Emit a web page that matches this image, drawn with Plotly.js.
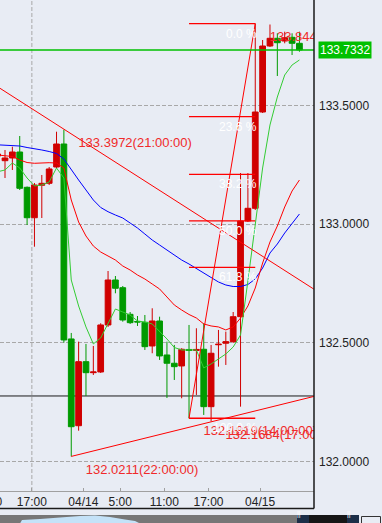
<!DOCTYPE html>
<html><head><meta charset="utf-8">
<script src="https://cdn.plot.ly/plotly-3.0.1.min.js"></script>
<style>html,body{margin:0;padding:0;background:#e8ecf4;overflow:hidden}#chart{width:382px;height:523px}</style>
</head><body><div id="chart"></div>
<script>
// ---------------- data ----------------
const times = [
'04/13 12:00','04/13 13:00','04/13 14:00','04/13 15:00','04/13 16:00','04/13 17:00','04/13 18:00','04/13 19:00','04/13 20:00','04/13 21:00','04/13 22:00','04/13 23:00',
'04/14 00:00','04/14 01:00','04/14 02:00','04/14 03:00','04/14 04:00','04/14 05:00','04/14 06:00','04/14 07:00','04/14 08:00','04/14 09:00','04/14 10:00','04/14 11:00',
'04/14 12:00','04/14 13:00','04/14 14:00','04/14 15:00','04/14 16:00','04/14 17:00','04/14 18:00','04/14 19:00','04/14 20:00','04/14 21:00','04/14 22:00','04/14 23:00',
'04/15 00:00','04/15 01:00','04/15 02:00','04/15 03:00','04/15 04:00','04/15 05:00'];

const open = [133.2865,133.2667,133.2781,133.3033,133.1546,133.0265,133.1631,133.1715,133.2402,133.3370,132.5159,132.1504,
132.4202,132.3738,132.3768,132.5748,132.7642,132.7318,132.6197,132.5894,132.5861,132.4863,132.5915,132.4484,
132.4135,132.4021,132.4716,132.4674,132.4724,132.2306,132.4914,132.4978,132.5045,132.6096,133.0127,133.0662,
133.4718,133.7498,133.7823,133.7709,133.7865,133.7612];
const high = [133.3118,133.3118,133.3256,133.3707,133.1580,133.1728,133.2065,133.2402,133.3888,133.3972,132.5411,132.5045,
132.4948,132.4863,132.5819,132.8021,132.7810,132.7389,132.6294,132.6125,132.6168,132.6450,132.6096,132.5045,
132.4906,132.4767,132.5748,132.5609,132.5819,132.4906,132.5538,132.5466,132.6294,133.2149,133.2149,133.8443,
133.7751,133.8404,133.8033,133.8101,133.8033,133.8101];
const low = [133.2696,133.1938,133.2275,133.1433,132.9958,132.9045,133.0253,133.1643,133.2360,132.5003,132.0211,132.1294,
132.2757,132.3641,132.3726,132.5664,132.7082,132.5886,132.5790,132.5706,132.4695,132.4556,132.4274,132.2673,
132.3431,132.2660,132.1819,132.2799,132.1957,132.1684,132.3991,132.4063,132.4990,132.2306,133.0084,133.0591,
133.4676,133.7456,133.6235,133.7612,133.7119,133.7258];
const close = [133.2949,133.2781,133.3033,133.1504,133.0265,133.1643,133.1715,133.2318,133.3370,132.5116,132.1462,132.4202,
132.3738,132.3768,132.5748,132.7642,132.7293,132.5957,132.5844,132.5873,132.4834,132.5915,132.4442,132.4135,
132.3991,132.4724,132.4674,132.4716,132.2306,132.4556,132.4935,132.5045,132.6096,133.0127,133.0662,133.4718,
133.7498,133.7823,133.7637,133.7848,133.7612,133.7332];

// moving averages
const maFast = [133.2203,133.2275,133.2570,133.2360,133.1938,133.1601,133.1643,133.1770,133.2360,133.1938,132.7643,132.6547,
132.5664,132.4948,132.5201,132.5832,132.6420,132.6294,132.6168,132.5915,132.5873,132.5790,132.5495,132.5159,
132.4799,132.4695,132.4695,132.4695,132.3937,132.4105,132.4316,132.4525,132.4820,132.5326,132.7600,132.9958,
133.2360,133.4171,133.5350,133.6277,133.6698,133.6909];
const maMid = [133.2907,133.2886,133.2844,133.2696,133.2591,133.2558,133.2583,133.2583,133.2570,133.2360,133.1011,133.0084,
132.9495,132.9074,132.8821,132.8652,132.8484,132.8231,132.8063,132.7852,132.7684,132.7473,132.7263,132.6926,
132.6589,132.6378,132.6189,132.6041,132.5790,132.5706,132.5664,132.5538,132.5664,132.6041,132.6547,132.7305,
132.8358,132.9242,132.9916,133.0717,133.1391,133.1854];
const maSlow = [133.3336,133.3328,133.3307,133.3286,133.3223,133.3181,133.3118,133.3054,133.2970,133.2739,133.2275,133.1854,
133.1433,133.1011,133.0696,133.0518,133.0379,133.0253,133.0042,132.9832,132.9579,132.9326,132.9116,132.8905,
132.8695,132.8484,132.8315,132.8126,132.7937,132.7726,132.7558,132.7431,132.7368,132.7368,132.7452,132.7684,
132.8147,132.8779,132.9158,132.9621,133.0000,133.0421];

// x-axis tick labels
const tickTimes  = ['04/13 17:00','04/14 00:00','04/14 05:00','04/14 11:00','04/14 17:00','04/15 00:00'];
const tickLabels = ['17:00','04/14','5:00','11:00','17:00','04/15'];
const yTicks = [132.0, 132.5, 133.0, 133.5];

// labelled extremes
const extremeTimes  = ['04/13 21:00','04/13 22:00','04/14 14:00','04/14 17:00','04/14 23:00'];
const extremePrices = [133.3972, 132.0211, 132.1819, 132.1684, 133.8443];

// drawn objects (bar position, price)
const trendDownX = [0, 43],   trendDownY = [133.578, 132.725];
const supportX   = [10, 43],  supportY   = [132.0211, 132.2740];
const fibX = [26, 35],        fibY = [132.1819, 133.8443];
const fibRatios = [0, 0.236, 0.382, 0.5, 0.618, 1];
const fibLabels = ['0.0 %', '23.6 %', '38.2 %', '50.0 %', '61.8 %', '100.0 %'];
const hLinePrice = 132.2757;
const lastPrice  = 133.7332;

// ---------------- styling ----------------
const BG = '#e8ecf4';
const FONT = 'Liberation Sans, Arial, sans-serif';
const UP = '#d00000', DOWN = '#009a00';
const XR = [0.32, 42.98], YR = [131.8754, 133.9436];
const TICK_SHIFT = -0.35, LABEL_DX = 1.97, LABEL_DY = 0.059;
const PW = 314, PH = 491;
const px = v => v / PW, py = v => (PH - v) / PH;

const xpos = times.map((t, k) => k);
const posOf = t => times.indexOf(t);

const traces = [];
traces.push({
  type: 'candlestick', x: xpos, open: open, high: high, low: low, close: close,
  increasing: {line: {color: UP, width: 1}, fillcolor: UP},
  decreasing: {line: {color: DOWN, width: 1}, fillcolor: DOWN},
  whiskerwidth: 0, hoverinfo: 'skip'
});
traces.push({type: 'scatter', mode: 'lines', x: xpos, y: maSlow, line: {color: '#0000ff', width: 1}, hoverinfo: 'skip'});
traces.push({type: 'scatter', mode: 'lines', x: xpos, y: maMid, line: {color: '#ff0000', width: 1}, hoverinfo: 'skip'});
traces.push({type: 'scatter', mode: 'lines', x: xpos, y: maFast, line: {color: '#33cc33', width: 1}, hoverinfo: 'skip'});
traces.push({type: 'scatter', mode: 'lines', x: trendDownX, y: trendDownY, line: {color: '#ff0000', width: 1}, hoverinfo: 'skip'});
traces.push({type: 'scatter', mode: 'lines', x: supportX, y: supportY, line: {color: '#ff0000', width: 1}, hoverinfo: 'skip'});

// fibonacci retracement
const fibLevels = fibRatios.map(r => fibY[1] - r * (fibY[1] - fibY[0]));
const fx = [], fy = [];
fibLevels.forEach(l => { fx.push(fibX[0], fibX[1], null); fy.push(l, l, null); });
traces.push({type: 'scatter', mode: 'lines', x: fx, y: fy, line: {color: '#ff0000', width: 1.3}, hoverinfo: 'skip'});
traces.push({type: 'scatter', mode: 'lines', x: fibX, y: fibY, line: {color: '#ff0000', width: 1}, hoverinfo: 'skip'});

// extreme labels
traces.push({
  type: 'scatter', mode: 'text',
  x: extremeTimes.map(t => posOf(t) + LABEL_DX),
  y: extremePrices.map(p => p - LABEL_DY),
  text: extremePrices.map((p, k) => p.toFixed(4) + '(' + extremeTimes[k].slice(6) + ':00)'),
  textposition: 'middle right',
  textfont: {family: FONT, size: 13, color: '#f02a2a'},
  hoverinfo: 'skip'
});

const annotations = fibLevels.map((l, k) => ({
  x: fibX[1], y: l, xref: 'x', yref: 'y', text: fibLabels[k], showarrow: false,
  xanchor: 'right', yanchor: 'top', xshift: 4, yshift: -1,
  font: {family: FONT, size: 12, color: '#ffffff'}
}));
annotations.push({
  x: 1, xref: 'paper', y: lastPrice, yref: 'y', text: lastPrice.toFixed(4), showarrow: false,
  xanchor: 'left', xshift: 4, yanchor: 'middle', bgcolor: '#00c000', borderpad: 1,
  font: {family: FONT, size: 12, color: '#ffffff'}
});
// cut-off tick label at left edge
annotations.push({
  x: (posOf('04/13 11:00') + TICK_SHIFT - XR[0]) / (XR[1] - XR[0]), xref: 'paper',
  y: py(502), yref: 'paper', text: '11:00', showarrow: false, xanchor: 'center', yanchor: 'middle',
  font: {family: FONT, size: 12, color: '#222'}
});
annotations.push({x: px(303), xref: 'paper', y: py(519.5), yref: 'paper', text: '||', showarrow: false,
  font: {family: FONT, size: 7, color: '#ffffff'}});
annotations.push({x: px(353), xref: 'paper', y: py(519.5), yref: 'paper', text: '||', showarrow: false,
  font: {family: FONT, size: 7, color: '#ffffff'}});

const shapes = [
  // vertical dashed grid at 17:00
  {type: 'line', xref: 'x', yref: 'paper', x0: posOf(tickTimes[0]) + TICK_SHIFT, x1: posOf(tickTimes[0]) + TICK_SHIFT,
   y0: 0, y1: 1, line: {color: '#a8a8a8', width: 1, dash: '4px,2px'}, layer: 'below'},
  // horizontal black line
  {type: 'line', xref: 'paper', yref: 'y', x0: 0, x1: 1, y0: hLinePrice, y1: hLinePrice,
   line: {color: '#1a1a1a', width: 1}, layer: 'below'},
  // last price line
  {type: 'line', xref: 'paper', yref: 'y', x0: 0, x1: 1, y0: lastPrice, y1: lastPrice,
   line: {color: '#00c000', width: 1.5}},
  // frame
  {type: 'line', xref: 'paper', yref: 'paper', x0: 1, x1: 1, y0: 1, y1: py(508.5), line: {color: '#1a1a1a', width: 1.5}},
  {type: 'line', xref: 'paper', yref: 'paper', x0: 0, x1: 1, y0: py(508.5), y1: py(508.5), line: {color: '#1a1a1a', width: 1.5}},
  // navigator strip
  {type: 'rect', xref: 'paper', yref: 'paper', x0: px(0), x1: px(297), y0: py(515), y1: py(523.5), fillcolor: '#777777', line: {width: 0}},
  {type: 'path', xref: 'paper', yref: 'paper',
   path: 'M ' + px(20) + ' ' + py(523.5) + ' L ' + px(22) + ' ' + py(520) + ' L ' + px(40) + ' ' + py(519) +
         ' L ' + px(60) + ' ' + py(517.5) + ' L ' + px(80) + ' ' + py(516) + ' L ' + px(95) + ' ' + py(515.5) +
         ' L ' + px(110) + ' ' + py(517) + ' L ' + px(125) + ' ' + py(519.5) + ' L ' + px(135) + ' ' + py(521) +
         ' L ' + px(140) + ' ' + py(523.5) + ' Z',
   fillcolor: '#c4e2f8', line: {width: 0}},
  {type: 'rect', xref: 'paper', yref: 'paper', x0: px(297), x1: px(309), y0: py(515), y1: py(523.5), fillcolor: '#1c2e48', line: {width: 0}},
  {type: 'rect', xref: 'paper', yref: 'paper', x0: px(309), x1: px(347), y0: py(515), y1: py(523.5), fillcolor: '#161616', line: {width: 0}},
  {type: 'rect', xref: 'paper', yref: 'paper', x0: px(347), x1: px(359), y0: py(515), y1: py(523.5), fillcolor: '#1c2e48', line: {width: 0}},
  {type: 'rect', xref: 'paper', yref: 'paper', x0: px(361.5), x1: px(380.5), y0: py(516.5), y1: py(524), fillcolor: BG, line: {color: '#333', width: 1}}
];

const layout = {
  width: 382, height: 523,
  margin: {l: 0, r: 68, t: 0, b: 32, pad: 0},
  paper_bgcolor: BG, plot_bgcolor: BG,
  showlegend: false,
  boxgap: 0.22, boxgroupgap: 0,
  font: {family: FONT, size: 12, color: '#222'},
  xaxis: {
    type: 'linear', range: XR, rangeslider: {visible: false}, fixedrange: true,
    showgrid: false, zeroline: false, showline: true, linecolor: '#a0a0a0', linewidth: 1,
    ticks: 'inside', ticklen: 3, tickcolor: '#a0a0a0',
    tickvals: tickTimes.map(t => posOf(t) + TICK_SHIFT), ticktext: tickLabels,
    tickfont: {family: FONT, size: 12, color: '#222'}
  },
  yaxis: {
    side: 'right', range: YR, fixedrange: true, tickvals: yTicks, tickformat: '.4f',
    showgrid: true, gridcolor: '#a8a8a8', griddash: '4px,2px', gridwidth: 1,
    zeroline: false, showline: false, ticks: '', ticklabelstandoff: 4,
    tickfont: {family: FONT, size: 12, color: '#222'}
  },
  shapes: shapes,
  annotations: annotations
};

Plotly.newPlot('chart', traces, layout, {staticPlot: true, displayModeBar: false});
</script>
</body></html>
